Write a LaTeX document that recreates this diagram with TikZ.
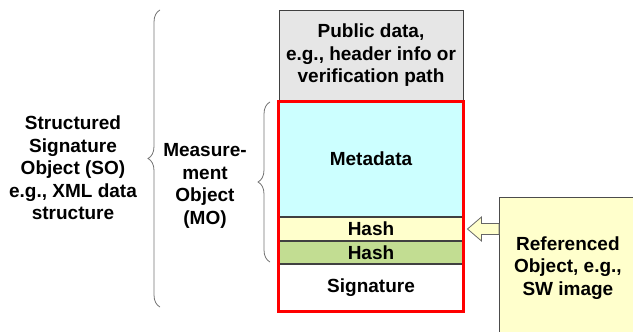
\documentclass[tikz,border=0pt]{standalone}
\usepackage{fontspec}
\setmainfont{Liberation Sans}
\usetikzlibrary{calc,decorations.pathreplacing}
\definecolor{pubgray}{HTML}{E6E6E6}
\definecolor{metacyan}{HTML}{CCFFFF}
\definecolor{hashyellow}{HTML}{FFFFCC}
\definecolor{hashgreen}{HTML}{C2DD92}
\definecolor{refyellow}{HTML}{FFFFCC}

\begin{document}
\begin{tikzpicture}[x=1pt, y=-1pt, thick,
        every node/.style={font=\fontsize{19}{22.5}\selectfont\bfseries, inner sep=0pt, align=center},
        layer/.style={draw=black!75, line width=1pt, minimum width=184pt, anchor=north},
        brc/.style={draw=black!55, line width=0.8pt, decorate,
            decoration={brace, amplitude=12pt}}]
        % Canvas
        \useasboundingbox (0,0) rectangle (633,332);
        \clip (0,0) rectangle (633,332);
    
        % Stack of layers
        \node[layer, fill=pubgray, minimum height=90pt] (pub) at (371,10) {Public data,\\e.g., header info or\\verification path};
        \node[layer, fill=metacyan, minimum height=115pt] (meta) at (pub.south) {Metadata};
        \node[layer, fill=hashyellow, minimum height=23pt] (hash1) at (meta.south) {Hash};
        \node[layer, fill=hashgreen, minimum height=22pt] (hash2) at (hash1.south) {Hash};
        \node[layer, fill=white, minimum height=46pt] (sig) at (hash2.south) {Signature};
    
        % Red frame round the measurement object
        \draw[red, line width=3pt] (meta.north west) rectangle (sig.south east);
    
        % Braces and their labels
        \draw[brc] (160,307) -- (160,10);
        \draw[brc] (270,262) -- (270,102);
        \node (so) at (73,168) {Structured\\Signature\\Object (SO)\\e.g., XML data\\structure};
        \node (mo) at (205,186) {Measure-\\ment\\Object\\(MO)};
    
        % Referenced object
        \node[draw=black!70, line width=0.8pt, fill=refyellow, minimum width=137pt,
            minimum height=141pt, anchor=north west] (ref) at (499,197) {Referenced\\Object, e.g.,\\SW image};
    
        % Block arrow into the first hash
        \coordinate (tip) at ($(hash1.east)+(4,0)$);
        \draw[draw=black!60, line width=0.8pt, fill=refyellow]
            (tip) -- ++(14,-12) -- ++(0,6.5) -- ($(ref.west |- tip)+(0,-5.5)$)
            -- ++(0,11) -- ($(tip)+(14,5.5)$) -- ++(0,6.5) -- cycle;
    \end{tikzpicture}
\end{document}
